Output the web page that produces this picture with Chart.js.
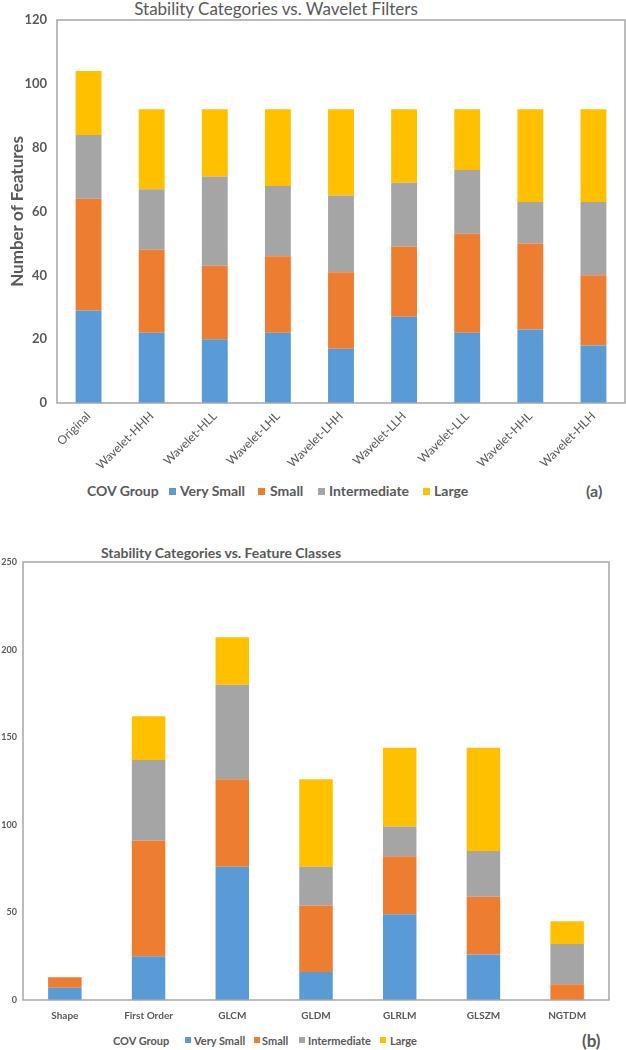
<!DOCTYPE html>
<html>
<head>
<meta charset="utf-8">
<script src="https://cdn.jsdelivr.net/npm/chart.js@4.4.1/dist/chart.umd.min.js"></script>
<style>
  body { margin: 0; background: #fff; }
  #page { position: relative; width: 626px; height: 1050px; overflow: hidden; font-family: Lato, 'Open Sans', sans-serif; color: #595959; }
  canvas { position: absolute; left: 0; }
  .txt { position: absolute; white-space: nowrap; line-height: 1; }
  .mark { position: absolute; }
</style>
</head>
<body>
<div id="page">
  <div class="txt" id="title1" style="font-size:17px; left:276px; top:0px; transform:translateX(-50%);">Stability Categories vs. Wavelet Filters</div>
  <canvas id="filterChart" width="626" height="470" style="top:0px"></canvas>
  <div id="legend1"></div>

  <div class="txt" id="title2" style="font-size:14px; font-weight:bold; left:221px; top:546px; transform:translateX(-50%);">Stability Categories vs. Feature Classes</div>
  <canvas id="classChart" width="626" height="490" style="top:540px"></canvas>
  <div id="legend2"></div>
</div>
<script>
'use strict';

// series names and colours
var groups = ['Very Small', 'Small', 'Intermediate', 'Large'];
var colors = ['#5B9BD5', '#ED7D31', '#A5A5A5', '#FFC000'];

// (a) wavelet filters
var filters = ['Original', 'Wavelet-HHH', 'Wavelet-HLL', 'Wavelet-LHL', 'Wavelet-LHH', 'Wavelet-LLH', 'Wavelet-LLL', 'Wavelet-HHL', 'Wavelet-HLH'];
var filtVerySmall = [29, 22, 20, 22, 17, 27, 22, 23, 18];
var filtSmall     = [35, 26, 23, 24, 24, 22, 31, 27, 22];
var filtInter     = [20, 19, 28, 22, 24, 20, 20, 13, 23];
var filtLarge     = [20, 25, 21, 24, 27, 23, 19, 29, 29];

// (b) feature classes
var classes = ['Shape', 'First Order', 'GLCM', 'GLDM', 'GLRLM', 'GLSZM', 'NGTDM'];
var clsVerySmall = [7, 25, 76, 16, 49, 26, 0];
var clsSmall     = [6, 66, 50, 38, 33, 33, 9];
var clsInter     = [0, 46, 54, 22, 17, 26, 23];
var clsLarge     = [0, 25, 27, 50, 45, 59, 13];

var grey = '#595959';
Chart.defaults.font.family = 'Lato, "Open Sans", sans-serif';
Chart.defaults.color = grey;

// box round the plot area, like the excel frame
var framePlugin = {
    id: 'frame',
    afterDatasetsDraw: function (chart) {
        var a = chart.chartArea, ctx = chart.ctx;
        ctx.save();
        ctx.strokeStyle = '#A6A6A6';
        ctx.lineWidth = 1.5;
        ctx.strokeRect(a.left, a.top, a.right - a.left, a.bottom - a.top);
        ctx.restore();
    }
};

function makeSets(series, barPct) {
    return series.map(function (vals, i) {
        return {
            label: groups[i],
            data: vals,
            backgroundColor: colors[i],
            borderWidth: 0,
            categoryPercentage: 1,
            barPercentage: barPct
        };
    });
}

function buildLegend(id, y, groupSize, fontSize, sq, groupX, markX, textX, tag, tagX, tagSize) {
    var el = document.getElementById(id);
    var html = '<div class="txt" style="font-weight:bold;font-size:' + groupSize + 'px;left:' + groupX + 'px;top:' + (y - groupSize / 2) + 'px">COV Group</div>';
    groups.forEach(function (g, i) {
        html += '<div class="mark" style="background:' + colors[i] + ';width:' + sq + 'px;height:' + sq + 'px;left:' + markX[i] + 'px;top:' + (y - sq / 2) + 'px"></div>';
        html += '<div class="txt" style="font-weight:bold;font-size:' + fontSize + 'px;left:' + textX[i] + 'px;top:' + (y - fontSize / 2) + 'px">' + g + '</div>';
    });
    html += '<div class="txt" style="font-weight:bold;font-size:' + tagSize + 'px;left:' + tagX + 'px;top:' + (y - tagSize / 2) + 'px">' + tag + '</div>';
    el.innerHTML = html;
}

// chart (a)
var ctx1 = document.getElementById('filterChart').getContext('2d');
var chart1 = new Chart(ctx1, {
    type: 'bar',
    data: { labels: filters, datasets: makeSets([filtVerySmall, filtSmall, filtInter, filtLarge], 0.41) },
    options: {
        responsive: false,
        animation: false,
        devicePixelRatio: 1,
        layout: { padding: { top: 20, right: 1, left: 0, bottom: 0 } },
        plugins: { legend: { display: false }, tooltip: { enabled: false } },
        scales: {
            x: {
                stacked: true,
                grid: { display: false, drawTicks: false },
                border: { display: false },
                ticks: { autoSkip: false, minRotation: 45, maxRotation: 45, padding: 6, color: grey, font: { size: 12 } },
                afterFit: function (s) { s.height = 67; }
            },
            y: {
                stacked: true,
                min: 0, max: 120,
                grid: { display: false, drawTicks: false },
                border: { display: false },
                ticks: { stepSize: 20, padding: 10, color: grey, font: { size: 13, weight: 'bold' } },
                title: { display: true, text: 'Number of Features', color: grey, padding: { top: 7, bottom: 0 }, font: { size: 17, weight: 'bold' } },
                afterFit: function (s) { s.width = 57; }
            }
        }
    },
    plugins: [framePlugin]
});

// chart (b)
var ctx2 = document.getElementById('classChart').getContext('2d');
var chart2 = new Chart(ctx2, {
    type: 'bar',
    data: { labels: classes, datasets: makeSets([clsVerySmall, clsSmall, clsInter, clsLarge], 0.40) },
    options: {
        responsive: false,
        animation: false,
        devicePixelRatio: 1,
        layout: { padding: { top: 22, right: 17, left: 0, bottom: 0 } },
        plugins: { legend: { display: false }, tooltip: { enabled: false } },
        scales: {
            x: {
                stacked: true,
                grid: { display: false, drawTicks: false },
                border: { display: false },
                ticks: { autoSkip: false, maxRotation: 0, padding: 10, color: grey, font: { size: 10, weight: 'bold' } },
                afterFit: function (s) { s.height = 30; }
            },
            y: {
                stacked: true,
                min: 0, max: 250,
                grid: { display: false, drawTicks: false },
                border: { display: false },
                ticks: { stepSize: 50, padding: 6, color: grey, font: { size: 9, weight: 'bold' } },
                afterFit: function (s) { s.width = 23; }
            }
        }
    },
    plugins: [framePlugin]
});

buildLegend('legend1', 491, 14, 14, 7, 87, [169, 258, 318, 423], [180, 270, 329, 434], '(a)', 586, 16);
buildLegend('legend2', 1040, 11, 11, 6, 113, [185, 254, 299, 380], [194, 262, 308, 390], '(b)', 582, 17);
</script>
</body>
</html>
